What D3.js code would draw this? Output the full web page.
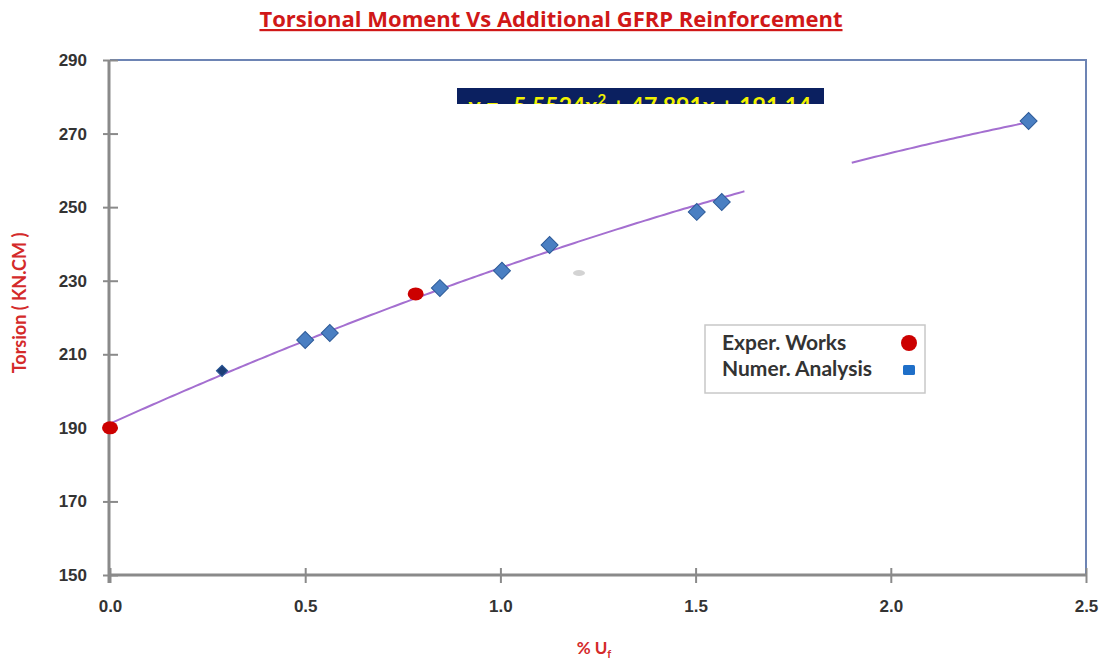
<!DOCTYPE html>
<html>
<head>
<meta charset="utf-8">
<script src="https://cdn.jsdelivr.net/npm/d3@7"></script>
<style>
  body { margin: 0; background: #fff; }
  svg { display: block; font-family: Lato, "Open Sans", sans-serif; }
</style>
</head>
<body>
<script>
// data
var experX = [0.0, 0.783];
var experY = [190.0, 226.4];
var numerX = [0.287, 0.50, 0.563, 0.845, 1.004, 1.126, 1.503, 1.567, 2.353];
var numerY = [205.5, 213.9, 215.8, 228.0, 232.7, 239.7, 248.7, 251.4, 273.4];
var xTicks = [0.0, 0.5, 1.0, 1.5, 2.0, 2.5];
var yTicks = [150, 170, 190, 210, 230, 250, 270, 290];
var trendCoef = [-5.5524, 47.891, 191.14];
var trendPieces = [[0, 1.625], [1.9, 2.353]];

var width = 1106;
var height = 662;
var pLeft = 110, pRight = 1086, pTop = 60, pBottom = 575;

var svg = d3.select("body").append("svg")
  .attr("width", width)
  .attr("height", height);

var x = d3.scaleLinear().domain([0, 2.5]).range([pLeft, pRight]);
var y = d3.scaleLinear().domain([150, 290]).range([pBottom, pTop]);

// title
svg.append("text")
  .attr("x", 551).attr("y", 27)
  .attr("text-anchor", "middle")
  .attr("fill", "#d01818")
  .attr("font-family", "'Open Sans', sans-serif")
  .attr("font-size", 22)
  .attr("font-weight", "bold")
  .attr("text-decoration", "underline")
  .text("Torsional Moment Vs Additional GFRP Reinforcement");

// plot frame (top and right)
svg.append("path")
  .attr("d", "M" + pLeft + "," + pTop + "H" + pRight + "V" + pBottom)
  .attr("fill", "none")
  .attr("stroke", "#6d84b4")
  .attr("stroke-width", 2);

// axes
var xAxis = d3.axisBottom(x).tickValues(xTicks).tickFormat(d3.format(".1f"))
  .tickSizeInner(15).tickSizeOuter(0).tickPadding(17);
var gx = svg.append("g").attr("transform", "translate(0," + (pBottom - 7) + ")").call(xAxis);
gx.select(".domain").remove();
gx.append("line").attr("x1", pLeft).attr("x2", pRight).attr("y1", 7).attr("y2", 7)
  .attr("stroke", "#8a8a8a").attr("stroke-width", 3);
gx.selectAll(".tick line").attr("stroke", "#8a8a8a").attr("stroke-width", 2);
gx.selectAll(".tick text").attr("fill", "#333").attr("font-size", 17).attr("font-weight", "bold");

var yAxis = d3.axisLeft(y).tickValues(yTicks)
  .tickSizeInner(15).tickSizeOuter(0).tickPadding(16);
var gy = svg.append("g").attr("transform", "translate(" + (pLeft + 8) + ",0)").call(yAxis);
gy.select(".domain").remove();
gy.append("line").attr("x1", -9).attr("x2", -9).attr("y1", pTop).attr("y2", pBottom + 8)
  .attr("stroke", "#8a8a8a").attr("stroke-width", 3);
gy.selectAll(".tick line").attr("stroke", "#8a8a8a").attr("stroke-width", 2);
gy.selectAll(".tick text").attr("fill", "#333").attr("font-size", 17).attr("font-weight", "bold");

// axis titles
svg.append("text")
  .attr("transform", "translate(26,303) rotate(-90)")
  .attr("text-anchor", "middle")
  .attr("fill", "#d42a2a")
  .attr("font-size", 18)
  .attr("font-weight", "bold")
  .text("Torsion ( KN.CM )");

var xt = svg.append("text")
  .attr("x", 594).attr("y", 654)
  .attr("text-anchor", "middle")
  .attr("fill", "#d42a2a")
  .attr("font-size", 17)
  .attr("font-weight", "bold");
xt.append("tspan").text("% U");
xt.append("tspan").attr("font-size", 11).attr("dy", 4).text("f");

// trendline
function trend(v) {
  return trendCoef[0] * v * v + trendCoef[1] * v + trendCoef[2];
}
var line = d3.line().x(function(d) { return x(d); }).y(function(d) { return y(trend(d)); });
trendPieces.forEach(function(p) {
  svg.append("path")
    .datum(d3.range(p[0], p[1], 0.01).concat([p[1]]))
    .attr("d", line)
    .attr("fill", "none")
    .attr("stroke", "#a46fd0")
    .attr("stroke-width", 2);
});

// small grey smudge
svg.append("ellipse")
  .attr("cx", 579).attr("cy", 273).attr("rx", 6).attr("ry", 3)
  .attr("fill", "#c8c8c8").attr("opacity", 0.8);

// numerical points (diamonds)
var numer = numerX.map(function(v, i) { return [v, numerY[i]]; });
svg.selectAll(".numer")
  .data(numer)
  .enter()
  .append("rect")
  .attr("class", "numer")
  .attr("width", function(d, i) { return i == 0 ? 8 : 12; })
  .attr("height", function(d, i) { return i == 0 ? 8 : 12; })
  .attr("x", function(d, i) { return i == 0 ? -4 : -6; })
  .attr("y", function(d, i) { return i == 0 ? -4 : -6; })
  .attr("transform", function(d) { return "translate(" + x(d[0]) + "," + y(d[1]) + ") rotate(45)"; })
  .attr("fill", function(d, i) { return i == 0 ? "#1d3f78" : "#4a7fc2"; })
  .attr("stroke", "#2d5a98")
  .attr("stroke-width", 1);

// experimental points
var exper = experX.map(function(v, i) { return [v, experY[i]]; });
svg.selectAll(".exper")
  .data(exper)
  .enter()
  .append("ellipse")
  .attr("class", "exper")
  .attr("cx", function(d) { return x(d[0]); })
  .attr("cy", function(d) { return y(d[1]); })
  .attr("rx", 8).attr("ry", 6.5)
  .attr("fill", "#cc0000");

// equation label, clipped at the bottom
svg.append("clipPath").attr("id", "eqclip")
  .append("rect").attr("x", 457).attr("y", 88).attr("width", 367).attr("height", 16);
var eq = svg.append("g").attr("clip-path", "url(#eqclip)");
eq.append("rect").attr("x", 457).attr("y", 88).attr("width", 367).attr("height", 16)
  .attr("fill", "#0b2060");
var eqt = eq.append("text")
  .attr("x", 640).attr("y", 114)
  .attr("text-anchor", "middle")
  .attr("fill", "#f2f200")
  .attr("font-size", 23)
  .attr("font-weight", "bold");
eqt.append("tspan").text("y = -5.5524x");
eqt.append("tspan").attr("font-size", 15).attr("dy", -9).text("2");
eqt.append("tspan").attr("dy", 9).text(" + 47.891x + 191.14");

// legend
var lg = svg.append("g").attr("transform", "translate(705,325)");
lg.append("rect").attr("width", 220).attr("height", 68)
  .attr("fill", "#fff").attr("stroke", "#c8c8c8").attr("stroke-width", 1.5);
lg.append("text").attr("x", 17).attr("y", 25)
  .attr("fill", "#333").attr("font-size", 21).attr("font-weight", "bold")
  .text("Exper. Works");
lg.append("text").attr("x", 17).attr("y", 51)
  .attr("fill", "#333").attr("font-size", 21).attr("font-weight", "bold")
  .text("Numer. Analysis");
lg.append("circle").attr("cx", 204).attr("cy", 18).attr("r", 8).attr("fill", "#cc0000");
lg.append("rect").attr("x", 198).attr("y", 40).attr("width", 12).attr("height", 10)
  .attr("rx", 1.5).attr("fill", "#1f6fc8");
</script>
</body>
</html>
